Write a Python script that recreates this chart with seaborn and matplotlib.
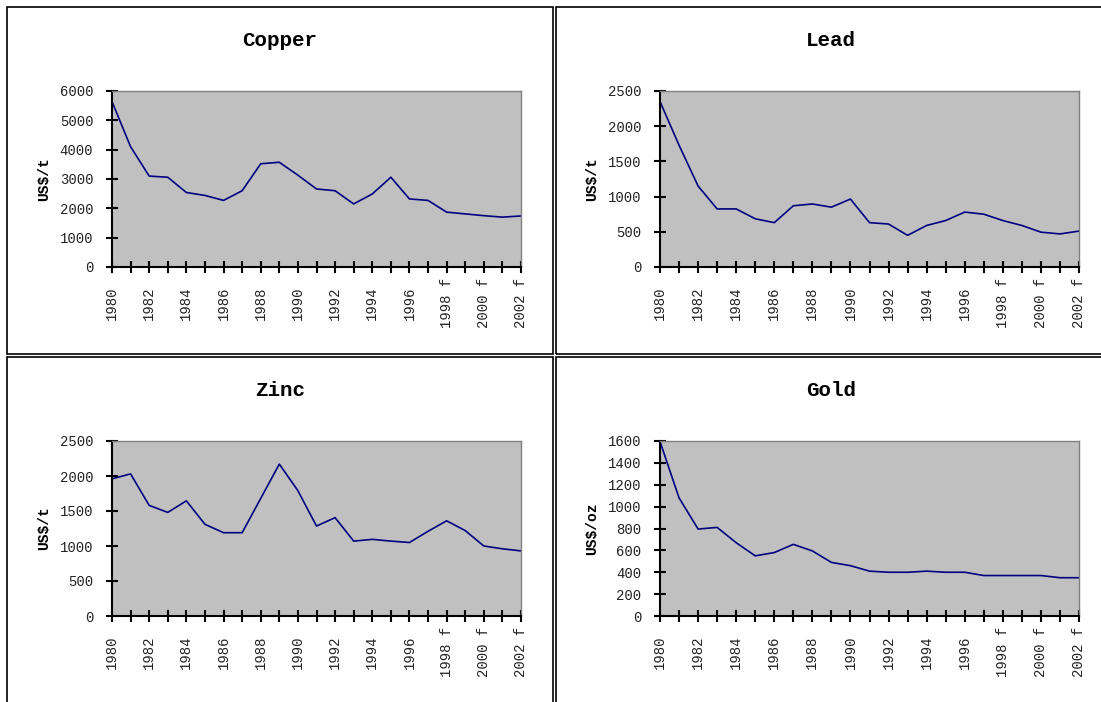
import matplotlib
matplotlib.use("Agg")
import matplotlib.pyplot as plt
from matplotlib.patches import Rectangle
import numpy as np
import pandas as pd
import seaborn as sns

# Annual metal prices, 1980-2002 (1998 onwards are forecasts)
years = [1980, 1981, 1982, 1983, 1984, 1985, 1986, 1987, 1988, 1989, 1990, 1991,
         1992, 1993, 1994, 1995, 1996, 1997, 1998, 1999, 2000, 2001, 2002]
forecast_from = 1998

copper = [5640, 4100, 3100, 3060, 2540, 2440, 2270, 2600, 3520, 3570, 3130, 2660,
          2600, 2150, 2490, 3060, 2320, 2270, 1870, 1810, 1750, 1700, 1740]
lead = [2350, 1730, 1150, 825, 825, 685, 630, 870, 895, 850, 965, 630,
        610, 450, 590, 660, 780, 750, 660, 590, 495, 470, 510]
zinc = [1960, 2030, 1580, 1480, 1645, 1310, 1190, 1190, 1680, 2170, 1790, 1285,
        1405, 1070, 1095, 1070, 1050, 1210, 1360, 1220, 1000, 960, 930]
gold = [1595, 1080, 795, 810, 670, 550, 580, 655, 595, 490, 460, 410,
        400, 400, 410, 400, 400, 370, 370, 370, 370, 350, 350]

titles = ["Copper", "Lead", "Zinc", "Gold"]
units = ["US$/t", "US$/t", "US$/t", "US$/oz"]
y_max = [6000, 2500, 2500, 1600]
y_step = [1000, 500, 500, 200]
series = [copper, lead, zinc, gold]

sns.set_theme(style="white")
plt.rcParams["font.family"] = ["Liberation Mono", "DejaVu Sans"]

W, H = 1101, 702
fig = plt.figure(figsize=(W / 100, H / 100), dpi=100)
fig.patch.set_facecolor("white")

# pixel layout: (plot area left, top, right, bottom), (panel frame x0, y0, x1, y1)
plot_boxes = [(112, 91, 521, 267), (660, 91, 1079, 267),
              (112, 441, 521, 616), (660, 441, 1079, 616)]
frames = [(7, 7, 553, 354), (556, 7, 1106, 354),
          (7, 357, 553, 707), (556, 357, 1106, 707)]

tick_labels = []
for i, y in enumerate(years):
    if i % 2:
        tick_labels.append("")
    elif y >= forecast_from:
        tick_labels.append(f"{y} f")
    else:
        tick_labels.append(str(y))

for k in range(4):
    x0, y0, x1, y1 = frames[k]
    fig.patches.append(Rectangle((x0 / W, 1 - y1 / H), (x1 - x0) / W, (y1 - y0) / H,
                                 transform=fig.transFigure, fill=False,
                                 lw=1.2, ec="black", zorder=0))

    l, t, r, b = plot_boxes[k]
    ax = fig.add_axes([l / W, 1 - b / H, (r - l) / W, (b - t) / H])
    ax.set_facecolor("#C0C0C0")

    df = pd.DataFrame({"pos": np.arange(len(years)), "price": series[k]})
    sns.lineplot(data=df, x="pos", y="price", ax=ax, color="#000080", lw=1.2)

    ax.set_xlim(0, len(years) - 1)
    ax.set_ylim(0, y_max[k])
    ax.set_yticks(np.arange(0, y_max[k] + 1, y_step[k]))
    ax.set_xticks(np.arange(len(years)))
    ax.set_xticklabels(tick_labels)

    ax.tick_params(axis="both", which="major", bottom=True, left=True,
                   direction="inout", length=8, width=1.5,
                   color="black", labelcolor="#222222", labelsize=10)
    ax.tick_params(axis="x", pad=22)
    ax.tick_params(axis="y", pad=9.5)
    for lab in ax.get_xticklabels():
        lab.set_rotation(90)
        lab.set_va("center")
        lab.set_ha("center")

    for side in ("left", "bottom"):
        ax.spines[side].set_color("black")
        ax.spines[side].set_linewidth(1.5)
    for side in ("top", "right"):
        ax.spines[side].set_color("#808080")
        ax.spines[side].set_linewidth(1.0)

    ax.set_xlabel("")
    ax.set_ylabel(units[k], fontsize=10.5, fontweight="bold", color="black")
    ax.yaxis.set_label_coords(-61 / (r - l), 0.5)

    cx = (x0 + x1) / 2
    fig.text(cx / W, 1 - (y0 + 33) / H, titles[k], ha="center", va="center",
             fontsize=15, fontweight="bold", color="black")

fig.savefig("out.png", dpi=100)
